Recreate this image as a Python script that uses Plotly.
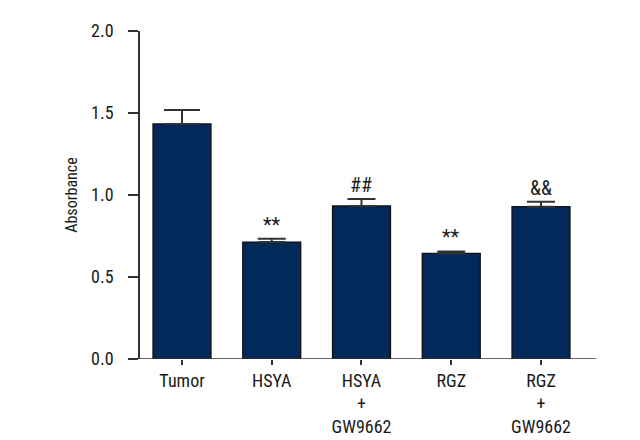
import plotly.graph_objects as go

categories = ["Tumor", "HSYA", "HSYA<br>+<br>GW9662", "RGZ", "RGZ<br>+<br>GW9662"]
absorbance = [1.433, 0.713, 0.933, 0.644, 0.929]
sem = [0.085, 0.02, 0.043, 0.012, 0.03]
marks = ["", "**", "##", "**", "&&"]

FONT = "Liberation Sans Narrow, Roboto Condensed, Arial Narrow, sans-serif"
AX = "#333333"
TXT = "#1a1a1a"
cap_widths = [18, 14, 14, 14, 14]

x_idx = list(range(len(categories)))

fig = go.Figure()
fig.add_trace(go.Bar(
    x=x_idx, y=absorbance,
    width=0.646,
    marker=dict(color="#03295a", line=dict(color="#111111", width=1.3)),
    showlegend=False, hoverinfo="skip",
))

# upper error bars (per bar so the cap width can differ)
for i, (v, e, w) in enumerate(zip(absorbance, sem, cap_widths)):
    fig.add_trace(go.Scatter(
        x=[i], y=[v], mode="markers", marker=dict(size=1, opacity=0),
        error_y=dict(type="data", array=[e], symmetric=False, arrayminus=[0],
                     color=AX, thickness=2, width=w),
        showlegend=False, hoverinfo="skip",
    ))

for i, (v, e, m) in enumerate(zip(absorbance, sem, marks)):
    if m:
        fig.add_annotation(x=i, y=v + e, text=m, showarrow=False, yanchor="bottom",
                           yshift=0, font=dict(family=FONT, size=20, color=TXT))

# x-axis baseline extending left to the y tick ends
fig.add_shape(type="line", xref="paper", yref="y", x0=-10/456, x1=1, y0=0, y1=0,
              line=dict(color=AX, width=1.5))

fig.update_layout(
    width=640, height=440,
    margin=dict(l=132, r=52, t=23, b=89),
    plot_bgcolor="white", paper_bgcolor="white",
    font=dict(family=FONT, size=18, color=TXT),
)
fig.update_xaxes(
    range=[-0.468, 4.613], automargin=False,
    tickmode="array", tickvals=x_idx, ticktext=categories,
    showline=False, ticks="outside", ticklen=5, tickwidth=1.5, tickcolor=AX,
    showgrid=False, zeroline=False,
    tickfont=dict(family=FONT, size=18, color=TXT),
)
fig.update_yaxes(
    range=[0, 2.0], automargin=False, tickmode="array", tickvals=[0, 0.5, 1.0, 1.5, 2.0],
    ticktext=["0.0", "0.5", "1.0", "1.5", "2.0"],
    showline=True, linecolor=AX, linewidth=1.5,
    ticks="outside", ticklen=10, tickwidth=1.5, tickcolor=AX,
    showgrid=False, zeroline=False,
    ticklabelstandoff=11,
    title=dict(text="Absorbance", font=dict(family=FONT, size=16, color=TXT), standoff=10),
    tickfont=dict(family=FONT, size=18, color=TXT),
)

fig.write_html("out.html")
